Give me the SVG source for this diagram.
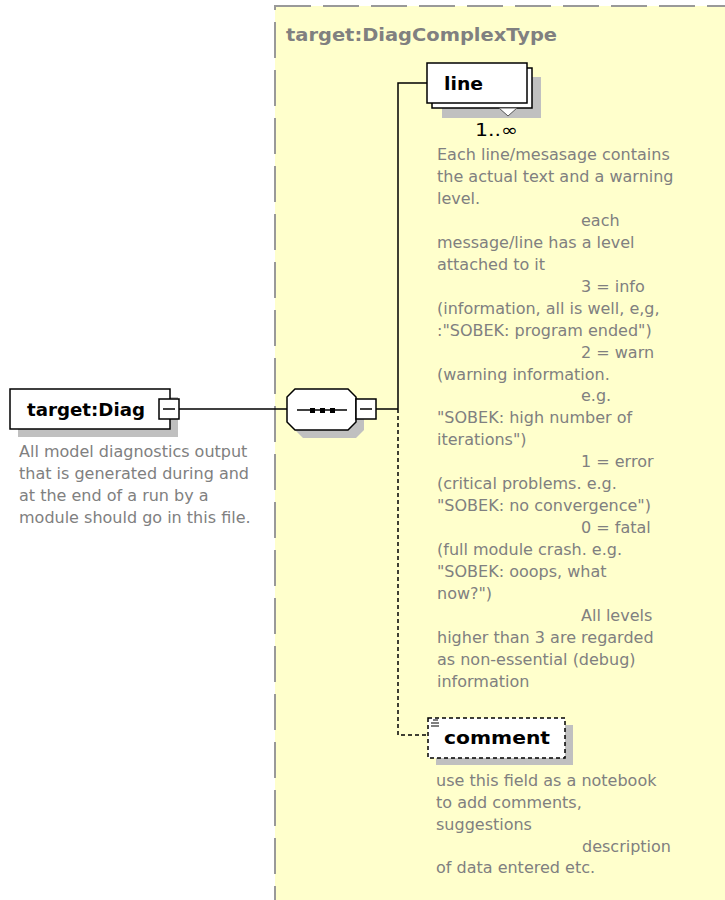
<svg xmlns="http://www.w3.org/2000/svg" width="725" height="900" viewBox="0 0 725 900">
<style>
.desc{font-family:"DejaVu Sans","Liberation Sans",sans-serif;font-size:16px;fill:#808080}
.lbl{font-family:"DejaVu Sans","Liberation Sans",sans-serif;font-size:18px;font-weight:bold;fill:#000}
.box{fill:#fff;stroke:#000;stroke-width:1.5}
.shadow{fill:#c0c0c0}
.conn{fill:none;stroke:#000;stroke-width:1.5}
</style>
<rect width="725" height="900" fill="#fff"/>
<g id="complexType">
<rect x="275" y="6" width="460" height="910" fill="#ffffcc" stroke="#999" stroke-width="2" stroke-dasharray="36 12"/>
<text x="286" y="41" font-family="DejaVu Sans, Liberation Sans, sans-serif" font-size="17" font-weight="bold" fill="#808080" textLength="271" lengthAdjust="spacingAndGlyphs">target:DiagComplexType</text>
</g>
<g id="connectors">
<line class="conn" x1="179" y1="409" x2="287" y2="409"/>
<line class="conn" x1="376" y1="409" x2="398" y2="409"/>
<polyline class="conn" points="398,409 398,83 427,83"/>
<polyline class="conn" points="398,409 398,735 428,735" stroke-dasharray="4 3"/>
</g>
<g id="diag">
<rect class="shadow" x="18" y="397" width="160" height="40"/>
<rect class="box" x="10" y="389" width="160" height="40"/>
<text class="lbl" x="27" y="416" textLength="118" lengthAdjust="spacingAndGlyphs">target:Diag</text>
<rect class="box" x="159" y="399" width="20" height="20"/>
<line x1="163" y1="409" x2="175" y2="409" stroke="#000" stroke-width="1.5"/>
<text class="desc"><tspan x="19" y="457">All model diagnostics output</tspan><tspan x="19" y="479">that is generated during and</tspan><tspan x="19" y="501">at the end of a run by a</tspan><tspan x="19" y="523">module should go in this file.</tspan></text>
</g>
<g id="sequence">
<polygon points="303,397 356,397 364,405 364,430 356,438 303,438 295,430 295,405" fill="#c0c0c0"/>
<polygon points="295,389 348,389 356,397 356,422 348,430 295,430 287,422 287,397" class="box"/>
<line x1="297" y1="410" x2="347" y2="410" stroke="#000" stroke-width="1.5"/>
<rect x="310" y="408" width="5" height="5" fill="#000"/>
<rect x="320" y="408" width="5" height="5" fill="#000"/>
<rect x="330" y="408" width="5" height="5" fill="#000"/>
<rect class="box" x="356" y="399" width="20" height="20"/>
<line x1="360" y1="409" x2="372" y2="409" stroke="#000" stroke-width="1.5"/>
</g>
<g id="line">
<rect class="shadow" x="442" y="77" width="99" height="41"/>
<rect class="box" x="432" y="68" width="100" height="40"/>
<polygon points="499,108 517,108 508,116" fill="#fff" stroke="#555" stroke-width="1"/>
<rect class="box" x="427" y="63" width="100" height="40"/>
<text class="lbl" x="444" y="90" textLength="39" lengthAdjust="spacingAndGlyphs">line</text>
<text x="475" y="136" font-family="DejaVu Sans, Liberation Sans, sans-serif" font-size="17" fill="#000" textLength="43" lengthAdjust="spacingAndGlyphs">1..∞</text>
<text class="desc">
<tspan x="437" y="160">Each line/mesasage contains</tspan>
<tspan x="437" y="182">the actual text and a warning</tspan>
<tspan x="437" y="204">level.</tspan>
<tspan x="581" y="226">each</tspan>
<tspan x="437" y="248">message/line has a level</tspan>
<tspan x="437" y="270">attached to it</tspan>
<tspan x="581" y="292">3 = info</tspan>
<tspan x="437" y="314">(information, all is well, e,g,</tspan>
<tspan x="437" y="336">:"SOBEK: program ended")</tspan>
<tspan x="581" y="358">2 = warn</tspan>
<tspan x="437" y="380">(warning information.</tspan>
<tspan x="581" y="401">e.g.</tspan>
<tspan x="437" y="423">"SOBEK: high number of</tspan>
<tspan x="437" y="445">iterations")</tspan>
<tspan x="581" y="467">1 = error</tspan>
<tspan x="437" y="489">(critical problems. e.g.</tspan>
<tspan x="437" y="511">"SOBEK: no convergence")</tspan>
<tspan x="581" y="533">0 = fatal</tspan>
<tspan x="437" y="555">(full module crash. e.g.</tspan>
<tspan x="437" y="577">"SOBEK: ooops, what</tspan>
<tspan x="437" y="599">now?")</tspan>
<tspan x="581" y="621">All levels</tspan>
<tspan x="437" y="643">higher than 3 are regarded</tspan>
<tspan x="437" y="665">as non-essential (debug)</tspan>
<tspan x="437" y="687">information</tspan>
</text>
</g>
<g id="comment">
<rect class="shadow" x="436" y="725" width="137" height="40"/>
<rect x="428" y="718" width="137" height="40" fill="#fff" stroke="#000" stroke-width="1.5" stroke-dasharray="4 3"/>
<line x1="433" y1="720" x2="438" y2="720" stroke="#000" stroke-width="1"/>
<line x1="431" y1="723" x2="439" y2="723" stroke="#000" stroke-width="1"/>
<line x1="431" y1="726" x2="439" y2="726" stroke="#000" stroke-width="1"/>
<text class="lbl" x="444" y="744" textLength="106" lengthAdjust="spacingAndGlyphs">comment</text>
<text class="desc">
<tspan x="436" y="786">use this field as a notebook</tspan>
<tspan x="436" y="808">to add comments,</tspan>
<tspan x="436" y="830">suggestions</tspan>
<tspan x="582" y="852">description</tspan>
<tspan x="436" y="873">of data entered etc.</tspan>
</text>
</g>
</svg>
